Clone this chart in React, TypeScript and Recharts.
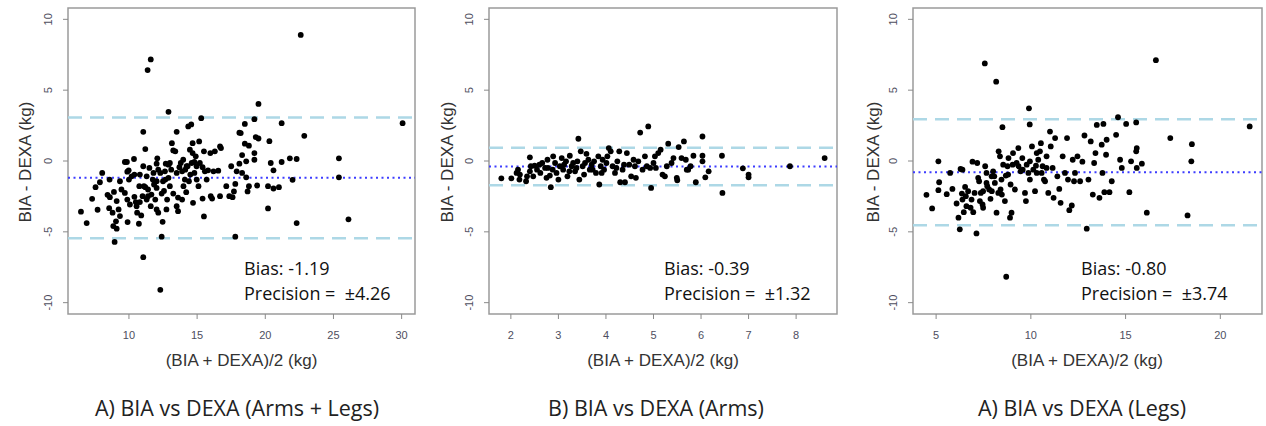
import { ScatterChart, Scatter, XAxis, YAxis, ReferenceLine, ReferenceArea } from "recharts";

type Pt = [number, number];

// (mean, difference) pairs
const ARMS_LEGS: Pt[] = [
  [22.6, 8.9], [11.6, 7.17], [11.37, 6.42], [12.9, 3.47], [19.5, 4.03], [15.3, 3.02], [30.07, 2.67],
  [22.86, 1.78], [11.05, 2.06], [19.2, 2.95], [21.2, 2.67], [18.5, 2.62], [18.1, 2.0], [18.2, 1.97],
  [19.3, 1.69], [19.5, 1.59], [20.3, 1.4], [18.5, 1.22], [18.8, 1.08], [19.2, 0.56], [19.2, 0.09],
  [18.3, 0.42], [18.6, -0.02], [20.4, -0.14], [21.2, -0.07], [21.8, 0.19], [22.3, 0.14], [25.4, 0.19],
  [25.4, -1.15], [22.0, -1.33], [20.6, -0.66], [20.6, -1.94], [21.0, -1.85], [20.2, -1.78], [19.4, -1.73],
  [20.2, -3.35], [22.3, -4.38], [26.1, -4.12], [17.8, -5.34], [12.4, -5.34], [11.05, -6.79], [12.3, -9.09],
  [8.95, -5.71], [6.48, -3.58], [6.9, -4.38], [7.3, -2.67], [7.7, -3.44], [7.55, -1.85], [7.87, -1.5],
  [8.04, -0.84], [8.58, -1.31], [8.43, -2.39], [8.6, -2.55], [8.55, -3.33], [8.8, -3.65], [8.85, -4.59],
  [9.1, -4.78], [9.05, -4.26], [8.9, -2.18], [9.1, -2.83], [9.24, -3.42], [9.34, -3.89], [9.7, -0.07],
  [9.85, -0.07], [10.37, 0.14], [11.2, 0.84], [9.88, -0.75], [9.98, -0.66], [10.0, -1.31], [9.7, -2.25],
  [9.88, -2.72], [10.07, -3.07], [9.9, -4.31], [10.73, -4.43], [10.4, -2.53], [10.5, -2.9], [10.56, -3.19],
  [10.6, -3.65], [10.9, -3.84], [10.76, -1.78], [10.8, -0.96], [10.4, -0.96], [11.05, -0.37], [11.3, -1.08],
  [11.2, -1.85], [11.4, -2.01], [11.3, -2.72], [11.6, -3.19], [11.4, -2.48], [11.75, -1.31], [11.84, -1.66],
  [12.03, -1.43], [12.15, -0.61], [12.08, 0.19], [12.03, -0.19], [11.93, -2.72], [12.03, -3.42],
  [12.15, -3.65], [12.47, -4.29], [12.4, -2.3], [12.57, -2.11], [12.67, -1.31], [12.64, -0.73], [12.7, -0.19],
  [12.9, -0.26], [13.0, -0.14], [13.25, 0.75], [13.15, 1.26], [13.5, 2.06], [13.4, 0.68], [13.0, -1.78],
  [12.8, -2.72], [12.75, -3.42], [13.5, -3.19], [13.6, -3.54], [13.25, -2.3], [13.5, -0.84], [13.7, -0.44],
  [13.8, -0.14], [13.98, 0.09], [14.13, -0.61], [14.23, -0.37], [14.1, -1.31], [14.2, -2.2], [14.4, -1.43],
  [14.6, -0.14], [14.67, 0.56], [14.47, 0.8], [14.35, 2.44], [14.57, 2.58], [14.67, 1.26], [14.8, -0.84],
  [14.97, -1.31], [15.1, -1.78], [15.15, 1.38], [15.4, -0.44], [15.4, -2.65], [15.5, -3.91], [14.7, -2.95],
  [15.5, 0.68], [15.57, -0.73], [15.8, -0.66], [15.97, 0.56], [16.0, -2.48], [16.1, -2.65], [16.2, -0.73],
  [16.3, 0.68], [16.55, -0.68], [16.68, -2.48], [16.68, 1.03], [16.75, 0.91], [17.14, -1.78], [17.36, -2.48],
  [17.5, -0.37], [17.6, -2.55], [17.7, -2.15], [17.8, -1.62], [17.9, -0.73], [18.1, -0.19], [18.3, -0.84],
  [18.6, -1.15], [18.8, -1.78], [18.7, -2.15], [12.3, -0.84], [12.5, -1.43], [12.9, -1.19], [13.1, -0.61],
  [13.9, -0.73], [14.0, -1.78], [14.3, -0.37], [14.5, -0.96], [14.8, -0.07], [14.96, -0.37], [11.8, -0.84],
  [11.65, -2.37], [11.1, -1.78], [11.0, -2.48], [10.8, -2.9], [10.2, -1.08], [9.45, -2.01], [9.34, -1.43],
  [12.03, -1.9], [11.5, -0.49], [13.6, -2.58], [13.9, -2.72], [15.7, -1.31], [15.2, -0.14], [14.9, 0.33],
];

const ARMS: Pt[] = [
  [1.8, -1.22], [2.01, -1.22], [2.12, -0.84], [2.15, -0.61], [2.19, -0.96], [2.18, -1.31], [2.32, -1.43],
  [2.34, -1.08], [2.4, 0.26], [2.42, -0.37], [2.47, -1.08], [2.55, -0.61], [2.6, -0.26], [2.62, -0.84],
  [2.72, -0.49], [2.77, 0.09], [2.75, -1.19], [2.82, -1.03], [2.84, -1.85], [2.88, -0.61], [2.93, -0.14],
  [2.96, -0.84], [3.0, -1.31], [3.03, -0.37], [3.07, 0.21], [3.1, -0.61], [3.16, -0.02], [3.19, -1.08],
  [3.24, 0.37], [3.28, -0.37], [3.31, -0.14], [3.35, -0.73], [3.38, -0.49], [3.42, 1.57], [3.44, -1.31],
  [3.47, 0.68], [3.51, -0.37], [3.54, -0.96], [3.59, 0.51], [3.63, 0.09], [3.66, -0.61], [3.7, -0.26],
  [3.75, -0.02], [3.79, -0.84], [3.84, 0.33], [3.86, -1.66], [3.89, -0.37], [3.93, 0.09], [3.96, -0.61],
  [4.01, -0.14], [4.06, 0.91], [4.1, 0.68], [4.14, -0.37], [4.19, -0.84], [4.24, -0.02], [4.28, 0.68],
  [4.3, -1.5], [4.35, -0.61], [4.4, -1.5], [4.44, 0.56], [4.49, -0.26], [4.53, -1.08], [4.58, 0.09],
  [4.63, -1.19], [4.68, -0.02], [4.72, 2.01], [4.77, -0.61], [4.82, 0.33], [4.89, 2.44], [4.93, -0.49],
  [4.95, -1.9], [5.0, -0.14], [5.05, -0.49], [5.1, 0.56], [5.15, 0.8], [5.19, -0.96], [5.24, -1.08],
  [5.31, 1.22], [5.38, -0.14], [5.49, -1.19], [5.5, -1.36], [5.53, 0.98], [5.59, 0.21], [5.64, 1.38],
  [5.68, 0.09], [5.73, -0.61], [5.78, -0.37], [5.84, 0.37], [5.89, -1.5], [6.03, 1.73], [6.03, 0.37],
  [6.03, -0.02], [6.09, -1.15], [6.16, -0.73], [6.44, 0.37], [6.45, -2.25], [6.88, -0.52], [7.0, -0.96],
  [7.0, -1.15], [7.87, -0.37], [8.6, 0.21], [2.4, -0.73], [2.5, -0.33], [2.66, -0.14], [2.78, -0.49],
  [2.89, 0.33], [3.12, -0.26], [3.23, -0.73], [3.4, -0.02], [3.56, -0.14], [3.72, -0.61], [3.91, -0.84],
  [4.03, 0.33], [4.22, -0.49], [4.38, -0.26], [4.61, -0.37], [4.86, -0.37], [5.03, 0.33], [5.28, -0.37],
  [5.42, 0.21], [5.7, -0.61],
];

const LEGS: Pt[] = [
  [7.57, 6.89], [8.17, 5.6], [16.6, 7.12], [9.9, 3.72], [9.94, 2.58], [8.5, 2.39], [8.7, -8.17],
  [4.49, -2.39], [4.79, -3.35], [5.12, -0.02], [5.16, -1.5], [5.12, -2.06], [5.56, -2.34], [5.74, -0.84],
  [5.86, -1.97], [6.08, -3.0], [6.18, -4.0], [6.25, -4.82], [6.29, -0.56], [6.39, -0.61], [6.36, -2.3],
  [6.39, -2.72], [6.46, -3.61], [6.53, -1.83], [6.57, -2.48], [6.6, -3.19], [6.69, -2.13], [6.92, -0.05],
  [6.96, -3.61], [7.03, -2.25], [7.13, -5.11], [7.17, -0.14], [7.22, -1.19], [7.27, -1.43], [7.31, -2.83],
  [7.36, -2.25], [7.45, -3.07], [7.48, -3.3], [7.59, -0.37], [7.66, -0.84], [7.7, -1.78], [7.8, -2.01],
  [7.87, -2.67], [7.94, -2.13], [8.01, -0.73], [8.07, -1.08], [8.1, -1.55], [8.19, -3.65], [8.3, 0.68],
  [8.37, 0.33], [8.4, -2.01], [8.47, -2.37], [8.54, -0.26], [8.63, -2.83], [8.68, -1.03], [8.77, -0.37],
  [8.82, 0.21], [8.9, -4.0], [8.98, -3.65], [9.04, -0.26], [9.16, -2.01], [9.25, -0.14], [9.34, 0.91],
  [9.46, -0.73], [9.55, 0.21], [9.69, -2.25], [9.74, -2.83], [9.87, -0.84], [9.95, -0.02], [10.06, 1.03],
  [10.13, -0.61], [10.22, -2.13], [10.31, -0.84], [10.39, 0.09], [10.48, 0.68], [10.53, 1.26],
  [10.62, -0.37], [10.69, -1.31], [10.83, 0.33], [10.92, -2.25], [11.01, 2.08], [11.05, 1.03],
  [11.15, -0.49], [11.2, -2.6], [11.28, 1.62], [11.4, -1.08], [11.5, -1.97], [11.57, -2.95], [11.68, 0.33],
  [11.8, -0.84], [11.91, 1.62], [11.96, -1.31], [12.03, -3.47], [12.16, -3.14], [12.21, 0.09],
  [12.28, -1.43], [12.33, -0.84], [12.46, 0.33], [12.6, -1.43], [12.72, -0.05], [12.83, 1.8], [12.95, -4.78],
  [13.04, -1.31], [13.16, 1.38], [13.27, -2.37], [13.34, -0.14], [13.41, 0.56], [13.48, 2.55], [13.62, -2.6],
  [13.74, 1.15], [13.78, -0.84], [13.83, 2.62], [13.88, -2.2], [13.97, 0.44], [14.0, 1.5], [14.15, -2.2],
  [14.27, -1.43], [14.5, 1.85], [14.6, 3.09], [14.71, 0.09], [14.8, -0.49], [15.03, 2.62], [15.2, -2.2],
  [15.29, -0.02], [15.56, 2.72], [15.56, 0.68], [15.59, 0.91], [15.59, -0.49], [15.86, -0.19],
  [16.12, -3.65], [17.36, 1.62], [18.27, -3.84], [18.47, -0.02], [18.5, 1.19], [21.55, 2.44],
  [9.35, -0.37], [9.57, -0.61], [9.78, -0.26], [10.27, -0.33], [10.57, -0.84], [10.75, -1.43],
  [10.83, -0.49], [8.8, -0.96], [8.93, -1.66], [8.45, -1.31], [7.93, -1.08], [7.66, -1.55], [7.48, -2.13],
  [6.87, -2.72], [6.82, -3.3], [8.28, -2.25], [9.06, 0.56], [9.95, -1.31], [10.31, 0.56],
];

const BIAS = [-1.19, -0.39, -0.8];
const PRECISION = [4.26, 1.32, 3.74];
const TITLES = ["A) BIA vs DEXA (Arms + Legs)", "B) BIA vs DEXA (Arms)", "A) BIA vs DEXA (Legs)"];
const Y_TICKS = [-10, -5, 0, 5, 10];
const X_TICKS_ARMS_LEGS = [10, 15, 20, 25, 30];
const X_TICKS_ARMS = [2, 3, 4, 5, 6, 7, 8];
const X_TICKS_LEGS = [5, 10, 15, 20];

const PLOT_TOP = 8;
const PLOT_BOTTOM = 314;
const H = 426;
const Y_DOMAIN: [number, number] = [-10.8, 10.8];
const TICK_COLOR = "#4e4e5e";
const R_FONT = "'Liberation Sans', Arial, sans-serif";
const NOTE_FONT = "'Open Sans', sans-serif";

const Dot = (p: any) => <circle cx={p.cx} cy={p.cy} r={2.9} fill="#000" />;

const YTick = ({ x, y, payload }: any) => (
  <text x={x} y={y} transform={`rotate(-90 ${x} ${y})`} textAnchor="middle" fontSize={11} fill={TICK_COLOR} fontFamily={R_FONT}>
    {payload.value}
  </text>
);

const XTick = ({ x, y, payload }: any) => (
  <text x={x} y={y} dy="0.71em" textAnchor="middle" fontSize={11} fill={TICK_COLOR} fontFamily={R_FONT}>
    {payload.value}
  </text>
);

type PanelProps = {
  pts: Pt[];
  bias: number;
  prec: number;
  xDomain: [number, number];
  xTicks: number[];
  left: number;
  width: number;
  plotLeft: number;
  right: number;
};

function Panel({ pts, bias, prec, xDomain, xTicks, left, width, plotLeft, right }: PanelProps) {
  const data = pts.map(([x, y]) => ({ x, y }));
  return (
    <div style={{ position: "absolute", left, top: 0 }}>
      <ScatterChart width={width} height={H} margin={{ top: PLOT_TOP, right, bottom: H - PLOT_BOTTOM - 30, left: 0 }}>
        <XAxis
          type="number"
          dataKey="x"
          domain={xDomain}
          ticks={xTicks}
          allowDataOverflow
          height={30}
          axisLine={false}
          tickLine={{ stroke: "#8a8a8a" }}
          tickSize={5}
          tickMargin={12}
          tick={<XTick />}
        />
        <YAxis
          type="number"
          dataKey="y"
          domain={Y_DOMAIN}
          ticks={Y_TICKS}
          allowDataOverflow
          width={plotLeft}
          axisLine={false}
          tickLine={{ stroke: "#8a8a8a" }}
          tickSize={5}
          tickMargin={11}
          tick={<YTick />}
        />
        <ReferenceLine y={bias + prec} stroke="#add8e6" strokeWidth={2.5} strokeDasharray="14 8" />
        <ReferenceLine y={bias - prec} stroke="#add8e6" strokeWidth={2.5} strokeDasharray="14 8" />
        <ReferenceLine y={bias} stroke="#3d3dff" strokeWidth={2} strokeDasharray="2 3.5" />
        <Scatter data={data} shape={Dot} isAnimationActive={false} />
        <ReferenceArea x1={xDomain[0]} x2={xDomain[1]} y1={Y_DOMAIN[0]} y2={Y_DOMAIN[1]} fill="none" stroke="#9a9a9a" strokeWidth={1.5} ifOverflow="visible" />
      </ScatterChart>
    </div>
  );
}

const NOTE_X = [244, 664, 1081];
const YLABEL_X = [25, 447, 873];
const XLABEL_X = [241.5, 663, 1087];
const TITLE_X = [237, 656, 1082];

export default function App() {
  return (
    <div style={{ position: "relative", width: 1266, height: H, background: "#fff", overflow: "hidden" }}>
      <style>{`body{margin:0}`}</style>
      <Panel pts={ARMS_LEGS} bias={BIAS[0]} prec={PRECISION[0]} xDomain={[5.53, 30.98]} xTicks={X_TICKS_ARMS_LEGS} left={0} width={420} plotLeft={68} right={5} />
      <Panel pts={ARMS} bias={BIAS[1]} prec={PRECISION[1]} xDomain={[1.54, 8.86]} xTicks={X_TICKS_ARMS} left={420} width={420} plotLeft={69} right={3} />
      <Panel pts={LEGS} bias={BIAS[2]} prec={PRECISION[2]} xDomain={[3.78, 22.2]} xTicks={X_TICKS_LEGS} left={840} width={426} plotLeft={73} right={4} />
      <svg width={1266} height={H} style={{ position: "absolute", left: 0, top: 0, pointerEvents: "none" }}>
        {[0, 1, 2].map((i) => (
          <g key={i}>
            <text
              x={YLABEL_X[i]}
              y={162}
              transform={`rotate(-90 ${YLABEL_X[i]} 162)`}
              textAnchor="middle"
              dominantBaseline="central"
              fontSize={17}
              fill="#333"
              fontFamily={R_FONT}
            >
              BIA - DEXA (kg)
            </text>
            <text x={XLABEL_X[i]} y={360} textAnchor="middle" dominantBaseline="central" fontSize={17} fill="#333" fontFamily={R_FONT}>
              (BIA + DEXA)/2 (kg)
            </text>
            <text x={NOTE_X[i]} y={275} fontSize={18} fill="#111" fontFamily={NOTE_FONT}>
              {`Bias: ${BIAS[i].toFixed(2)}`}
            </text>
            <text x={NOTE_X[i]} y={300} fontSize={18} fill="#111" fontFamily={NOTE_FONT}>
              {`Precision =\u00a0 ±${PRECISION[i].toFixed(2)}`}
            </text>
            <text x={TITLE_X[i]} y={407} textAnchor="middle" dominantBaseline="central" fontSize={21.5} fill="#222" fontFamily={NOTE_FONT}>
              {TITLES[i]}
            </text>
          </g>
        ))}
      </svg>
    </div>
  );
}
